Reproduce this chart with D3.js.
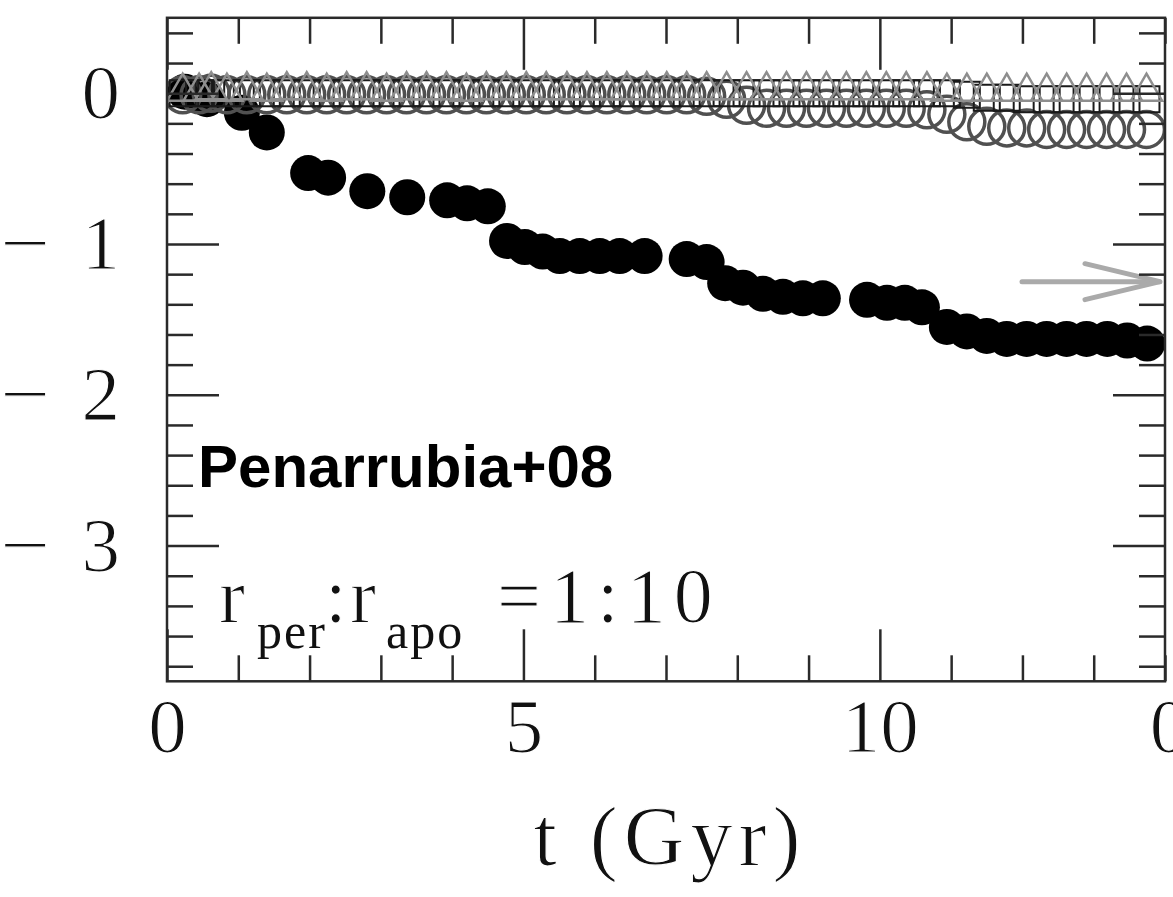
<!DOCTYPE html>
<html>
<head>
<meta charset="utf-8">
<script src="https://cdn.jsdelivr.net/npm/d3@7"></script>
<style>
  html, body { margin: 0; padding: 0; background: #fff; overflow: hidden; }
  svg { display: block; }
  .light { stroke: #fff; stroke-width: 1.2px; paint-order: fill; }
</style>
</head>
<body>
<svg id="chart" width="1173" height="897"></svg>
<script>
// Bound-mass track (filled black circles): time in Gyr and log value
const tBound = [0.25, 0.56, 1.05, 1.40, 1.98, 2.26, 2.81, 3.37, 3.93, 4.21, 4.50,
  4.77, 5.02, 5.27, 5.51, 5.79, 6.07, 6.35, 6.70, 7.29, 7.57, 7.83, 8.08, 8.36,
  8.64, 8.92, 9.20, 9.82, 10.10, 10.35, 10.59, 10.94, 11.22, 11.50, 11.78, 12.06,
  12.34, 12.62, 12.90, 13.19, 13.47, 13.75];
const vBound = [0.01, -0.04, -0.13, -0.26, -0.53, -0.56, -0.65, -0.69, -0.71, -0.73, -0.75,
  -0.98, -1.02, -1.05, -1.08, -1.08, -1.08, -1.08, -1.08, -1.10, -1.12, -1.26, -1.29, -1.33,
  -1.35, -1.36, -1.36, -1.37, -1.39, -1.39, -1.42, -1.55, -1.58, -1.61, -1.63, -1.63,
  -1.63, -1.63, -1.63, -1.63, -1.64, -1.66];

// Snapshot times shared by the three open-marker tracks
const tOpen = [0.22, 0.45, 0.62, 0.84, 1.12, 1.40, 1.68, 1.96, 2.24, 2.52,
  2.80, 3.08, 3.36, 3.64, 3.92, 4.20, 4.48, 4.76, 5.04, 5.32,
  5.61, 5.89, 6.17, 6.45, 6.73, 7.01, 7.29, 7.57, 7.85, 8.13,
  8.41, 8.69, 8.97, 9.25, 9.53, 9.81, 10.09, 10.37, 10.66, 10.94,
  11.22, 11.50, 11.78, 12.06, 12.34, 12.62, 12.90, 13.18, 13.46, 13.74];

// Open dark-grey circles
const vCircle = [-0.01, -0.01, 0.00, -0.01, -0.01, -0.01, -0.01, -0.01, -0.01, -0.01,
  -0.01, -0.01, -0.01, -0.01, -0.01, -0.01, -0.01, -0.01, -0.01, -0.01,
  -0.01, -0.01, -0.01, -0.01, -0.01, -0.01, -0.01, -0.02, -0.04, -0.08,
  -0.10, -0.10, -0.10, -0.10, -0.10, -0.10, -0.10, -0.10, -0.11, -0.14,
  -0.19, -0.22, -0.23, -0.23, -0.24, -0.24, -0.24, -0.24, -0.24, -0.24];

// Open black squares
const vSquare = [0.00, 0.00, 0.00, 0.00, 0.00, 0.00, 0.00, 0.00, 0.00, 0.00,
  0.00, 0.00, 0.00, 0.00, 0.00, 0.00, 0.00, 0.00, 0.00, 0.00,
  0.00, 0.00, 0.00, 0.00, 0.00, 0.00, 0.00, 0.00, 0.00, 0.00,
  0.00, 0.00, 0.00, 0.00, 0.00, 0.00, 0.00, 0.00, 0.00, 0.00,
  -0.01, -0.03, -0.03, -0.04, -0.04, -0.04, -0.04, -0.04, -0.04, -0.04];

// Open light-grey triangles
const vTriangle = [0.01, 0.01, 0.02, 0.01, 0.02, 0.01, 0.02, 0.02, 0.01, 0.02,
  0.02, 0.01, 0.02, 0.02, 0.02, 0.01, 0.02, 0.02, 0.02, 0.02,
  0.02, 0.02, 0.02, 0.02, 0.02, 0.02, 0.02, 0.02, 0.02, 0.02,
  0.02, 0.02, 0.02, 0.02, 0.02, 0.02, 0.02, 0.02, 0.02, 0.01,
  0.01, 0.01, 0.01, 0.01, 0.01, 0.01, 0.01, 0.01, 0.01, 0.01];

// Axis ticks and labels
const xMajorTicks = [0, 5, 10];
const xTickLabels = ["0", "5", "10"];
const yMajorTicks = [0, -1, -2, -3];
const yTickLabels = ["0", "1", "2", "3"];   // minus signs are set separately

// Level marked by the arrow on the right-hand axis
const arrowValue = -1.25;

const svg = d3.select("#chart");
const plot = { left: 167, right: 1165, top: 17.8, bottom: 681.3 };

const x = d3.scaleLinear().domain([0, 14]).range([plot.left, plot.right]);
const y = d3.scaleLinear().domain([-3.9, 0.5]).range([plot.bottom, plot.top]);

const serif = "'Liberation Serif', 'Times New Roman', serif";
const sans = "'Liberation Sans', Arial, sans-serif";
const ink = "#2a2a2a";

svg.append("defs").append("clipPath").attr("id", "plot-clip")
  .append("rect")
  .attr("x", plot.left).attr("y", plot.top)
  .attr("width", plot.right - plot.left).attr("height", plot.bottom - plot.top);

// ---- markers ----
const marks = svg.append("g").attr("clip-path", "url(#plot-clip)");

marks.append("g").selectAll("circle")
  .data(d3.zip(tBound, vBound))
  .join("circle")
  .attr("cx", d => x(d[0]))
  .attr("cy", d => y(d[1]))
  .attr("r", 18)
  .attr("fill", "#000");

marks.append("g").selectAll("circle")
  .data(d3.zip(tOpen, vCircle))
  .join("circle")
  .attr("cx", d => x(d[0]))
  .attr("cy", d => y(d[1]))
  .attr("r", 18)
  .attr("fill", "none")
  .attr("stroke", "#505050")
  .attr("stroke-width", 3.5);

const squareSym = d3.symbol(d3.symbolSquare, 26 * 26);
marks.append("g").selectAll("path")
  .data(d3.zip(tOpen, vSquare))
  .join("path")
  .attr("d", squareSym)
  .attr("transform", d => `translate(${x(d[0])},${y(d[1])})`)
  .attr("fill", "none")
  .attr("stroke", "#1a1a1a")
  .attr("stroke-width", 2);

const triSym = d3.symbol(d3.symbolTriangle, 421);
marks.append("g").selectAll("path")
  .data(d3.zip(tOpen, vTriangle))
  .join("path")
  .attr("d", triSym)
  .attr("transform", d => `translate(${x(d[0])},${y(d[1])})`)
  .attr("fill", "none")
  .attr("stroke", "#8e8e8e")
  .attr("stroke-width", 2.5);

// ---- arrow on the right ----
const ay = y(arrowValue);
const arrow = svg.append("g")
  .attr("stroke", "#aaa").attr("stroke-width", 5).attr("fill", "none")
  .attr("stroke-linecap", "round");
arrow.append("line").attr("x1", 1022).attr("x2", 1160).attr("y1", ay).attr("y2", ay);
arrow.append("path").attr("d", `M1085,${ay - 18} L1160,${ay} L1085,${ay + 18}`);

// ---- axes / frame ----
function tidy(g) {
  g.select(".domain").remove();
  g.selectAll(".tick line").attr("stroke", ink).attr("stroke-width", 2.5);
  g.selectAll(".tick text")
    .attr("class", "light")
    .attr("font-family", serif).attr("font-size", 77).attr("fill", "#111");
}

const xMinor = d3.range(0, 15).filter(v => v % 5 !== 0);
const yMinor = d3.range(-19, 3).map(i => +(i * 0.2).toFixed(1))
  .filter(v => Math.abs(v - Math.round(v)) > 1e-6);

// bottom
svg.append("g").attr("transform", `translate(0,${plot.bottom})`)
  .call(d3.axisBottom(x).tickValues(xMinor).tickSize(-26).tickFormat(""))
  .call(tidy);
svg.append("g").attr("transform", `translate(0,${plot.bottom})`)
  .call(d3.axisBottom(x).tickValues(xMajorTicks).tickSize(-52).tickPadding(16)
    .tickFormat((d, i) => xTickLabels[i]))
  .call(tidy);
// top
svg.append("g").attr("transform", `translate(0,${plot.top})`)
  .call(d3.axisTop(x).tickValues(xMinor).tickSize(-26).tickFormat(""))
  .call(tidy);
svg.append("g").attr("transform", `translate(0,${plot.top})`)
  .call(d3.axisTop(x).tickValues(xMajorTicks).tickSize(-52).tickFormat(""))
  .call(tidy);
// left
svg.append("g").attr("transform", `translate(${plot.left},0)`)
  .call(d3.axisLeft(y).tickValues(yMinor).tickSize(-26).tickFormat(""))
  .call(tidy);
const yLeft = svg.append("g").attr("transform", `translate(${plot.left},0)`)
  .call(d3.axisLeft(y).tickValues(yMajorTicks).tickSize(-52).tickPadding(47)
    .tickFormat((d, i) => yTickLabels[i]))
  .call(tidy);
// minus signs for negative labels, set wide as in TeX
yLeft.selectAll(".tick").filter(d => d < 0)
  .append("text")
  .attr("class", "light")
  .attr("x", 0 - plot.left)
  .attr("dy", "0.32em")
  .attr("text-anchor", "start")
  .attr("textLength", 50)
  .attr("lengthAdjust", "spacingAndGlyphs")
  .attr("font-family", serif).attr("font-size", 77).attr("fill", "#111")
  .text("\u2212");
// right
svg.append("g").attr("transform", `translate(${plot.right},0)`)
  .call(d3.axisRight(y).tickValues(yMinor).tickSize(-26).tickFormat(""))
  .call(tidy);
svg.append("g").attr("transform", `translate(${plot.right},0)`)
  .call(d3.axisRight(y).tickValues(yMajorTicks).tickSize(-52).tickFormat(""))
  .call(tidy);

svg.append("rect")
  .attr("x", plot.left).attr("y", plot.top)
  .attr("width", plot.right - plot.left).attr("height", plot.bottom - plot.top)
  .attr("fill", "none").attr("stroke", ink).attr("stroke-width", 2.5);

// origin label of the neighbouring panel
svg.append("text")
  .attr("class", "light")
  .attr("x", 1169).attr("y", 752)
  .attr("text-anchor", "middle")
  .attr("font-family", serif).attr("font-size", 77).attr("fill", "#111")
  .text("0");

// x-axis title
svg.append("text")
  .attr("class", "light")
  .attr("x", 670).attr("y", 865)
  .attr("text-anchor", "middle")
  .attr("font-family", serif).attr("font-size", 84).attr("letter-spacing", 6)
  .attr("fill", "#111")
  .text("t (Gyr)");

// ---- annotations ----
svg.append("text")
  .attr("x", 198).attr("y", 487)
  .attr("font-family", sans).attr("font-weight", "bold").attr("font-size", 60)
  .attr("fill", "#000")
  .text("Penarrubia+08");

const ratio = svg.append("g").attr("font-family", serif).attr("fill", "#111");
const mainY = 622, subY = 648;
ratio.append("text").attr("class", "light").attr("x", 219).attr("y", mainY)
  .attr("font-size", 78).text("r");
ratio.append("text").attr("x", 257).attr("y", subY).attr("font-size", 50)
  .attr("letter-spacing", 2).text("per");
ratio.append("text").attr("class", "light").attr("x", 325).attr("y", mainY)
  .attr("font-size", 78).text(":");
ratio.append("text").attr("class", "light").attr("x", 350).attr("y", mainY)
  .attr("font-size", 78).text("r");
ratio.append("text").attr("x", 386).attr("y", subY).attr("font-size", 50)
  .attr("letter-spacing", 2).text("apo");
ratio.append("text").attr("class", "light").attr("x", 497).attr("y", mainY)
  .attr("font-size", 78).text("=");
ratio.append("text").attr("class", "light").attr("x", 550).attr("y", mainY)
  .attr("font-size", 78).attr("letter-spacing", 8).text("1:10");
</script>
</body>
</html>
